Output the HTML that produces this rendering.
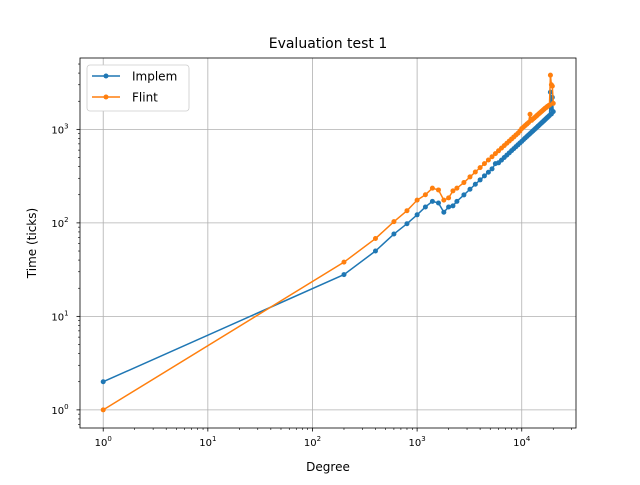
<!DOCTYPE html>
<html><head><meta charset="utf-8"><style>
body{margin:0;background:#fff;}
svg{font-family:"DejaVu Sans","Liberation Sans",sans-serif;}
</style></head><body>
<svg id="chart" width="640" height="480" viewBox="0 0 640 480"></svg>
<script>
const degrees = [1,200,400,600,800,1000,1200,1400,1600,1800,2000,2200,2400,2800,3200,3600,4000,4400,4800,5200,5600,6000,6400,6800,7200,7600,8000,8400,8800,9200,9600,10000,10400,10800,11200,11600,12000,12400,12800,13200,13600,14000,14400,14800,15200,15600,16000,16400,16800,17200,17600,18000,18400,18800,19200,19600,20000];
const implemTimes = [2,28,50,76,98,122,148,170,163,130,148,152,170,199,229,259,288,318,348,378,430,439,469,500,530,561,592,623,653,684,715,745,777,808,839,870,901,932,963,995,1026,1057,1088,1120,1151,1183,1214,1246,1278,1310,1342,1374,1406,2500,1460,2200,1550];
const flintTimes = [1,38,68,103,135,175,200,235,225,175,185,220,235,270,310,350,390,430,470,510,550,590,630,670,710,750,790,830,870,910,960,1020,1060,1100,1140,1180,1450,1250,1290,1330,1370,1410,1450,1490,1530,1570,1610,1650,1690,1720,1760,1790,1820,3800,3000,2900,1900];
const xTicks = [1,10,100,1000,10000];
const xTickLabels = ["0","1","2","3","4"];
const yTicks = [1,10,100,1000];
const yTickLabels = ["0","1","2","3"];

const L=80,R=576,T=58,B=428;
const xMin=Math.log10(0.6), xMax=Math.log10(33000);
const yMin=Math.log10(0.64), yMax=Math.log10(5800);
function xs(v){return L+(Math.log10(v)-xMin)/(xMax-xMin)*(R-L);}
function ys(v){return B-(Math.log10(v)-yMin)/(yMax-yMin)*(B-T);}
const svg=document.getElementById('chart');
const NS='http://www.w3.org/2000/svg';
function mk(tag,attrs,parent){const e=document.createElementNS(NS,tag);for(const k in attrs)e.setAttribute(k,attrs[k]);(parent||svg).appendChild(e);return e;}

// grid
xTicks.forEach((t,i)=>{
  const g=mk('line',{x1:xs(t),x2:xs(t),y1:T,y2:B,stroke:'#b0b0b0','stroke-width':0.8});
  
  
  mk('line',{x1:xs(t),x2:xs(t),y1:B,y2:B+3.5,stroke:'#000','stroke-width':0.8});
  const tx=mk('text',{x:xs(t),y:B+18,'text-anchor':'middle','font-size':10});
  
  
  tx.appendChild(document.createTextNode('10'));
  const sup=mk('tspan',{dy:-5,'font-size':7},tx);sup.textContent=xTickLabels[i];
});
yTicks.forEach((t,i)=>{
  const g=mk('line',{x1:L,x2:R,y1:ys(t),y2:ys(t),stroke:'#b0b0b0','stroke-width':0.8});
  
  
  mk('line',{x1:L-3.5,x2:L,y1:ys(t),y2:ys(t),stroke:'#000','stroke-width':0.8});
  const tx=mk('text',{x:L-20,y:ys(t)+4,'text-anchor':'middle','font-size':10});
  
  
  tx.appendChild(document.createTextNode('10'));
  const sup=mk('tspan',{dy:-5,'font-size':7},tx);sup.textContent=yTickLabels[i];
});
// minor ticks
for(let d=0;d<5;d++)for(let m=2;m<10;m++){const v=m*Math.pow(10,d);if(v<33000)mk('line',{x1:xs(v),x2:xs(v),y1:B,y2:B+2,stroke:'#000','stroke-width':0.6});}
for(let d=-1;d<4;d++)for(let m=2;m<10;m++){const v=m*Math.pow(10,d);if(v>0.64&&v<5800)mk('line',{x1:L-2,x2:L,y1:ys(v),y2:ys(v),stroke:'#000','stroke-width':0.6});}

function series(vals,color,name){
  const p=mk('polyline',{points:degrees.map((d,i)=>xs(d)+','+ys(vals[i])).join(' '),fill:'none',stroke:color,'stroke-width':1.5});
  
  
  degrees.forEach((d,i)=>{
    const c=mk('circle',{cx:xs(d),cy:ys(vals[i]),r:2.5,fill:color});
    
    
  });
}
series(implemTimes,'#1f77b4','implem');
series(flintTimes,'#ff7f0e','flint');

const fr=mk('rect',{x:L,y:T,width:R-L,height:B-T,fill:'none',stroke:'#000','stroke-width':0.8});



const title=mk('text',{x:(L+R)/2,y:48,'text-anchor':'middle','font-size':14});


title.textContent='Evaluation test 1';
const xl=mk('text',{x:(L+R)/2,y:471,'text-anchor':'middle','font-size':12});


xl.textContent='Degree';
const yl=mk('text',{x:36,y:(T+B)/2,'text-anchor':'middle','font-size':12,transform:'rotate(-90 36 '+((T+B)/2)+')'});


yl.textContent='Time (ticks)';

// legend
const lg=mk('g',{});


mk('rect',{x:87,y:65,width:102,height:46,rx:3,fill:'#fff',stroke:'#ccc','stroke-width':0.8},lg);
[['Implem','#1f77b4',76],['Flint','#ff7f0e',97]].forEach(([n,c,y])=>{
  const e=mk('g',{},lg);
  
  
  mk('line',{x1:92,x2:120,y1:y,y2:y,stroke:c,'stroke-width':1.5},e);
  mk('circle',{cx:106,cy:y,r:2.5,fill:c},e);
  const t=mk('text',{x:132,y:y+4.5,'font-size':12},e);t.textContent=n;
});
</script>
</body></html>
